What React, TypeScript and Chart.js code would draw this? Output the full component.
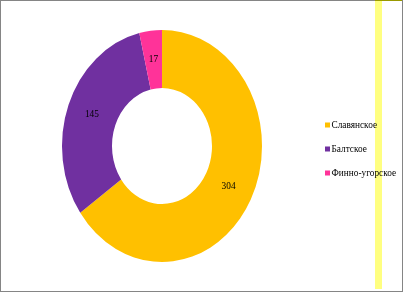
import React, { useEffect, useRef } from "react";
import { Chart, registerables } from "chart.js";

Chart.register(...registerables);

const categories = ["Славянское", "Балтское", "Финно-угорское"];
const values = [304, 145, 17];
const colors = ["#FFC000", "#7030A0", "#FF3399"];

const FONT = "9.3px 'Liberation Serif', 'DejaVu Serif', serif";
const X_SQUEEZE = 100 / 116;

const ellipsePlugin = {
  id: "ellipseDonut",
  beforeDatasetsDraw(chart: any) {
    const ctx = chart.ctx;
    const arc = chart.getDatasetMeta(0).data[0];
    const cx = arc ? arc.x : 0;
    ctx.save();
    ctx.translate(cx, 0);
    ctx.scale(X_SQUEEZE, 1);
    ctx.translate(-cx, 0);
  },
  afterDatasetsDraw(chart: any) {
    const ctx = chart.ctx;
    ctx.restore();
    const meta = chart.getDatasetMeta(0);
    ctx.save();
    ctx.font = FONT;
    ctx.fillStyle = "#000";
    ctx.textAlign = "center";
    ctx.textBaseline = "middle";
    meta.data.forEach((arc: any, i: number) => {
      const { x, y, startAngle, endAngle, innerRadius, outerRadius } = arc.getProps(
        ["x", "y", "startAngle", "endAngle", "innerRadius", "outerRadius"],
        true
      );
      const mid = (startAngle + endAngle) / 2;
      const r = (innerRadius + outerRadius) / 2;
      ctx.fillText(
        String(chart.data.datasets[0].data[i]),
        x + Math.cos(mid) * r * X_SQUEEZE,
        y + Math.sin(mid) * r
      );
    });
    ctx.restore();
  },
};

const legendPlugin = {
  id: "customLegend",
  afterDraw(chart: any) {
    const ctx = chart.ctx;
    const labels = chart.data.labels as string[];
    const bg = chart.data.datasets[0].backgroundColor as string[];
    ctx.save();
    ctx.font = FONT;
    ctx.textBaseline = "middle";
    ctx.textAlign = "left";
    const x0 = 325;
    const y0 = 125;
    const step = 24;
    labels.forEach((lab, i) => {
      const y = y0 + i * step;
      ctx.fillStyle = bg[i];
      ctx.fillRect(x0, y - 2.5, 5, 5);
      ctx.fillStyle = "#000";
      ctx.fillText(lab, x0 + 6.5, y + 0.5);
    });
    ctx.restore();
  },
};

export default function App() {
  const ref = useRef<HTMLCanvasElement | null>(null);
  useEffect(() => {
    if (!ref.current) return;
    const chart = new Chart(ref.current, {
      type: "doughnut",
      data: {
        labels: categories,
        datasets: [
          {
            data: values,
            backgroundColor: colors,
            borderWidth: 0,
          },
        ],
      },
      options: {
        responsive: false,
        animation: false,
        devicePixelRatio: 1,
        cutout: "50%",
        layout: { padding: { left: 46, right: 125, top: 30, bottom: 30 } },
        plugins: {
          legend: { display: false },
          tooltip: { enabled: false },
        },
      },
      plugins: [ellipsePlugin, legendPlugin],
    });
    return () => chart.destroy();
  }, []);

  return (
    <div
      style={{
        position: "fixed",
        left: 0,
        top: 0,
        width: 403,
        height: 292,
        background: "#fff",
        overflow: "hidden",
      }}
    >
      <div
        style={{
          position: "absolute",
          left: 375,
          top: 1,
          width: 7,
          height: 288,
          background: "#FFFF80",
        }}
      />
      <canvas
        ref={ref}
        width={403}
        height={292}
        style={{ position: "absolute", left: 0, top: 0, width: 403, height: 292 }}
      />
      <div
        style={{
          position: "absolute",
          left: 0,
          top: 0,
          width: 403,
          height: 292,
          boxSizing: "border-box",
          border: "1px solid #858585",
          pointerEvents: "none",
        }}
      />
      <div
        style={{
          position: "absolute",
          left: 375,
          top: 0,
          width: 27,
          height: 1,
          background: "#999900",
        }}
      />
    </div>
  );
}
